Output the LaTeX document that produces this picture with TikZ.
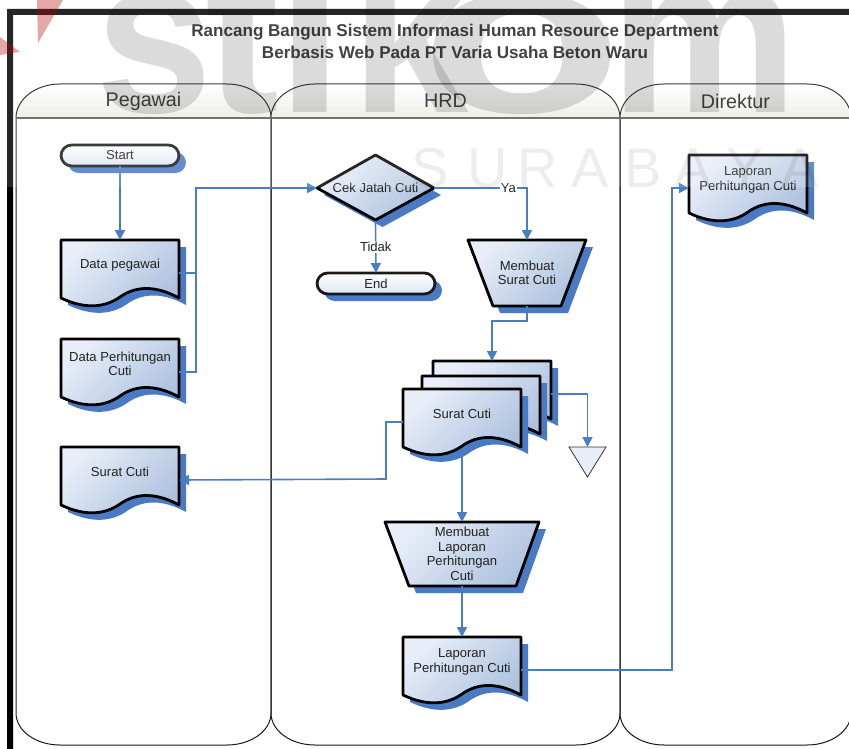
\documentclass[tikz,border=0pt]{standalone}
\usepackage{fontspec}
\setmainfont{Liberation Sans}
\usetikzlibrary{arrows.meta}
\definecolor{shadowblue}{HTML}{4A7AC3}
\definecolor{linkblue}{HTML}{4A7EC4}
\definecolor{lightfill}{HTML}{E8EEF8}
\definecolor{darkfill}{HTML}{AEC2DF}
\definecolor{headfill}{HTML}{ECEDE3}
\definecolor{inktext}{HTML}{222222}
\def\docpath{(0,0) -- (118,0) -- (118,58) .. controls (96,46) and (76,45) .. (59,57) .. controls (45,67) and (25,70) .. (0,58) -- cycle}
\def\termpath{[rounded corners=8pt] (0,0) rectangle (118,21)}
\def\decpath{(0,33) -- (58.5,0) -- (117,33) -- (58.5,65) -- cycle}
\def\trapsmall{(0,0) -- (118,0) -- (93,66) -- (25,66) -- cycle}
\def\traplarge{(0,0) -- (154,0) -- (131,64) -- (24,64) -- cycle}
\newcommand{\flowbox}[8][0pt]{%
    \fill[shadowblue,shift={(#4+7,#5+7)}] #2;
    \path[shift={(#4,#5)},#3] #2;
    \node[anchorbox,minimum width=#6*0.75pt,minimum height=#7*0.75pt] (#8) at (#4+#6/2,#5+#7/2) {};
    \node[boxtext,yshift=#1] (#8text) at (#8.center) {\flowtext};
}
\newcommand{\lane}[4]{%
    \shade[top color=white,bottom color=headfill] (#2,118) .. controls (#2,99) and (#2+20,84) .. (#2+44,84) -- (#3-44,84) .. controls (#3-20,84) and (#3,99) .. (#3,118) -- cycle;
    \draw[laneline] (#2,118) .. controls (#2,99) and (#2+20,84) .. (#2+44,84) -- (#3-44,84) .. controls (#3-20,84) and (#3,99) .. (#3,118) -- (#3,713) .. controls (#3,731) and (#3-20,745) .. (#3-44,745) -- (#2+44,745) .. controls (#2+20,745) and (#2,731) .. (#2,713) -- cycle;
    \draw[headline] (#2,118) -- (#3,118);
    \node[lanetext] (#1) at ({(#2+#3)/2},101) {#4};
}
\begin{document}
\begin{tikzpicture}[x=0.75pt,y=-0.75pt,>={Stealth[inset=0pt,length=7.5pt,width=7.5pt]},
    anchorbox/.style={inner sep=0pt,outer sep=0pt},
    boxtext/.style={inner sep=0pt,align=center,text=inktext,font=\fontsize{9.8}{10.9}\selectfont},
    lanetext/.style={inner sep=0pt,text=inktext,font=\fontsize{14.8}{16}\selectfont},
    laneline/.style={draw=black!90,line width=0.75pt},
    headline/.style={draw=black!65,line width=0.9pt},
    docfill/.style={draw=black,line width=2.1pt,line join=round,top color=lightfill,bottom color=darkfill,shading angle=45},
    termfill/.style={draw=black!90,line width=2.1pt,top color=white,bottom color=lightfill!80!darkfill},
    link/.style={draw=linkblue,line width=1.2pt},
    linklabel/.style={fill=white,inner sep=1pt,text=inktext,font=\fontsize{9.8}{10.9}\selectfont},
    wmark/.style={anchor=base west,inner sep=0pt,opacity=0.14,transform shape,font=\bfseries\fontsize{166.5}{170}\selectfont},
    wmarksmall/.style={anchor=base,inner sep=0pt,opacity=0.07,font=\fontsize{42}{44}\selectfont}]
    \useasboundingbox (0,0) rectangle (849,749);
    \clip (0,0) rectangle (849,749);
    \fill[black] (7,9) rectangle (849,15) (7,9) rectangle (13,749);
    \node[inner sep=0pt,align=center,text=inktext,font=\bfseries\fontsize{12.8}{16.5}\selectfont] (judul) at (455,41) {Rancang Bangun Sistem Informasi Human Resource Department\\Berbasis Web Pada PT Varia Usaha Beton Waru};
    \lane{lanepegawai}{16}{271}{Pegawai}
    \lane{lanehrd}{271}{620}{HRD}
    \lane{lanedirektur}{620}{851}{Direktur}
    \def\flowtext{Start}\flowbox{\termpath}{termfill}{61}{145}{118}{21}{mulai}
    \def\flowtext{End}\flowbox{\termpath}{termfill}{317}{273}{118}{21}{selesai}
    \def\flowtext{Data pegawai}\flowbox[6pt]{\docpath}{docfill}{61}{240}{118}{66}{datapegawai}
    \def\flowtext{Data Perhitungan\\Cuti}\flowbox[6pt]{\docpath}{docfill}{61}{339}{118}{66}{dataperhitungan}
    \def\flowtext{Surat Cuti}\flowbox[6pt]{\docpath}{docfill}{61}{447}{118}{66}{suratpegawai}
    \def\flowtext{Cek Jatah Cuti}\flowbox{\decpath}{docfill}{317}{155}{117}{66}{cekjatah}
    \def\flowtext{Membuat\\Surat Cuti}\flowbox{\trapsmall}{docfill}{468}{240}{118}{66}{buatsurat}
    \def\flowtext{}\flowbox{\docpath}{docfill}{433}{361}{118}{66}{suratbelakang}
    \def\flowtext{}\flowbox{\docpath}{docfill}{422}{376}{118}{66}{surattengah}
    \def\flowtext{Surat Cuti}\flowbox[6pt]{\docpath}{docfill}{403}{389}{118}{66}{suratdepan}
    \def\flowtext{Membuat\\Laporan\\Perhitungan\\Cuti}\flowbox{\traplarge}{docfill}{385}{522}{154}{64}{buatlaporan}
    \def\flowtext{Laporan\\Perhitungan Cuti}\flowbox[6pt]{\docpath}{docfill}{403}{637}{118}{66}{laporanhrd}
    \def\flowtext{Laporan\\Perhitungan Cuti}\flowbox[6pt]{\docpath}{docfill}{689}{155}{118}{66}{laporandirektur}
    \draw[fill=lightfill,draw=black!80,line width=0.6pt] (569,447) -- (606,447) -- (587.5,477) -- cycle;
    \node[anchorbox,minimum width=27.75pt,minimum height=22.5pt] (arsip) at (587.5,462) {};
    \coordinate (cabang) at (196,188);
    \coordinate (kiri) at (386,479);
    \coordinate (kanan) at (672,670);
    \draw[link,->] (mulai.south) -- (datapegawai.north);
    \draw[link] (datapegawai.east) -- (datapegawai.east -| cabang);
    \draw[link,->] (dataperhitungan.east) -| (cabang) -- (cekjatah.west);
    \draw[link,->] (cekjatah.east) -| node[linklabel,pos=0.4] (labelya) {Ya} (buatsurat.north);
    \draw[link,->] (cekjatah.south) -- node[linklabel] (labeltidak) {Tidak} (selesai.north);
    \draw[link,->] (buatsurat.south) -- ++(0,15) -| (suratbelakang.north);
    \draw[link,->] (suratbelakang.east) -| (arsip.north);
    \draw[link,->] (suratdepan.west) -| (kiri) -- (suratpegawai.east);
    \draw[link,->] (suratdepan.south) -- (buatlaporan.north);
    \draw[link,->] (buatlaporan.south) -- (laporanhrd.north);
    \draw[link,->] (laporanhrd.east) -- (kanan) |- (laporandirektur.west);
    \fill[white,opacity=0.15] (0,0) rectangle (849,187);
    \foreach \ltr/\xp/\sx in {s/95/0.95,t/205/1,i/276/1.1,k/351/0.95,o/420/1.5,m/610/0.95}
        \node[wmark,xscale=\sx] at (\xp,113) {\ltr};
    \foreach \ltr/\xp in {S/430,U/488,R/538,A/590,B/643,A/693,Y/745,A/800}
        \node[wmarksmall] at (\xp,187) {\ltr};
    \fill[red!70!black,opacity=0.35] (37,0) -- (63,0) -- (38,43) -- cycle (0,37) -- (20,52) -- (0,55) -- cycle;
\end{tikzpicture}
\end{document}
